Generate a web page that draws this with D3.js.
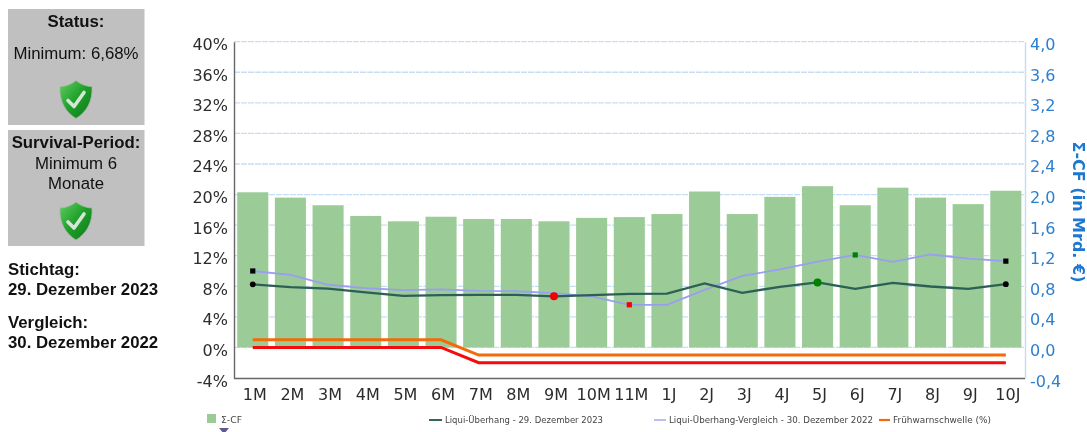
<!DOCTYPE html>
<html><head><meta charset="utf-8">
<script src="https://cdn.jsdelivr.net/npm/d3@7/dist/d3.min.js"></script>
<style>
html,body{margin:0;padding:0;background:#fff;overflow:hidden}
svg{display:block;filter:blur(.6px)}
.side{font-family:"Liberation Sans",Arial,sans-serif;fill:#111}
.ax{font-family:"DejaVu Sans",sans-serif;font-size:16px}
.leg{font-family:"DejaVu Sans",sans-serif;font-size:9px;fill:#444}
</style></head><body>
<svg id="c" width="1087" height="432"></svg>
<script>
const categories=["1M","2M","3M","4M","5M","6M","7M","8M","9M","10M","11M","1J","2J","3J","4J","5J","6J","7J","8J","9J","10J"];
const cfValues=[2.03,1.96,1.86,1.72,1.65,1.71,1.68,1.68,1.65,1.695,1.705,1.745,2.04,1.745,1.97,2.11,1.86,2.09,1.96,1.875,2.05];
const liquiValues=[8.25,7.9,7.7,7.2,6.75,6.85,6.88,6.88,6.68,6.85,7.0,7.05,8.37,7.15,7.93,8.5,7.67,8.45,7.97,7.67,8.28];
const vergleichValues=[10.0,9.5,8.2,7.75,7.5,7.6,7.4,7.35,7.1,6.67,5.58,5.58,7.54,9.37,10.2,11.24,12.1,11.2,12.16,11.63,11.29];
const fruehValues=[1,1,1,1,1,1,-1,-1,-1,-1,-1,-1,-1,-1,-1,-1,-1,-1,-1,-1,-1];
const limitValues=[0,0,0,0,0,0,-2,-2,-2,-2,-2,-2,-2,-2,-2,-2,-2,-2,-2,-2,-2];
const leftTicks=[-4,0,4,8,12,16,20,24,28,32,36,40];
const rightTicks=[-0.4,0,0.4,0.8,1.2,1.6,2.0,2.4,2.8,3.2,3.6,4.0];
const liquiMarks=[{i:0,c:"#000"},{i:8,c:"#f00000"},{i:15,c:"#008000"},{i:20,c:"#000"}];
const vergleichMarks=[{i:0,c:"#000"},{i:10,c:"#f00000"},{i:16,c:"#008000"},{i:20,c:"#000"}];
const legendItems=["Σ-CF","Liqui-Überhang - 29. Dezember 2023","Liqui-Überhang-Vergleich - 30. Dezember 2022","Frühwarnschwelle (%)"];

const svg=d3.select("#c");
const L=234,R=1025,T=41.7,B=378;
const x=d3.scaleBand().domain(categories).range([L-1,R+.6]).paddingInner(.175).paddingOuter(.1125);
const y=d3.scaleLinear().domain([-4,40]).range([B,T]);
const y2=d3.scaleLinear().domain([-.4,4]).range([B,T]);
const cx=i=>x(categories[i])+x.bandwidth()/2;

// side panels
const panels=[[8,9,116],[8,130,116]];
svg.selectAll("rect.p").data(panels).join("rect").attr("class","p")
 .attr("x",d=>d[0]).attr("y",d=>d[1]).attr("width",136.5).attr("height",d=>d[2]).attr("fill","#c0c0c0");
const st=(t,xp,yp,size,bold,anchor)=>svg.append("text").attr("class","side").attr("x",xp).attr("y",yp)
 .attr("font-size",size).attr("font-weight",bold?"bold":"normal").attr("text-anchor",anchor||"middle").text(t);
st("Status:",76,27,16.8,true);
st("Minimum: 6,68%",76,59,16.8,false);
st("Survival-Period:",76,148,16.8,true);
st("Minimum 6",76,169,16.8,false);
st("Monate",76,189,16.8,false);
st("Stichtag:",8,275,16.8,true,"start");
st("29. Dezember 2023",8,295,16.8,true,"start");
st("Vergleich:",8,328,16.8,true,"start");
st("30. Dezember 2022",8,348,16.8,true,"start");

// shield icons
const defs=svg.append("defs");
const g=defs.append("linearGradient").attr("id","sh").attr("x1",0).attr("y1",0).attr("x2",1).attr("y2",1);
g.append("stop").attr("offset","0").attr("stop-color","#5fd15f");
g.append("stop").attr("offset",".5").attr("stop-color","#1f9e2a");
g.append("stop").attr("offset","1").attr("stop-color","#0c7a18");
[99.5,221].forEach(cy=>{
 const s=svg.append("g").attr("transform",`translate(76,${cy})`);
 s.append("path").attr("d","M0,-19 C5,-15 11,-13 16,-13 C17,2 10,13 0,19 C-10,13 -17,2 -16,-13 C-11,-13 -5,-15 0,-19Z")
  .attr("fill","url(#sh)").attr("stroke","#a8b8a8").attr("stroke-width",.8);
 s.append("path").attr("d","M-8,1 L-2,7 L8,-7").attr("fill","none").attr("stroke","#d4e6d4")
  .attr("stroke-width",3.6).attr("stroke-linecap","round").attr("stroke-linejoin","round");
});

// grid
svg.append("g").selectAll("line").data(leftTicks.filter(d=>d>-4)).join("line")
 .attr("x1",L).attr("x2",R).attr("y1",d=>y(d)).attr("y2",d=>y(d))
 .attr("stroke","#c6def5").attr("stroke-width",1.3).attr("stroke-dasharray","6 1");

// bars
svg.append("g").selectAll("rect").data(cfValues).join("rect")
 .attr("x",(d,i)=>x(categories[i])).attr("width",x.bandwidth())
 .attr("y",d=>y2(d)).attr("height",d=>y2(0)-y2(d)).attr("fill","#9bcb97");

// axes
const lAxis=svg.append("g").attr("class","ax").attr("transform",`translate(${L},0)`)
 .call(d3.axisLeft(y).tickValues(leftTicks).tickFormat(d=>d+"%").tickSize(0).tickPadding(6));
lAxis.select(".domain").attr("stroke","#666").attr("stroke-width",1.4);
lAxis.selectAll("text").attr("fill","#2c2c2c").attr("dy","0.5em");
const rAxis=svg.append("g").attr("class","ax").attr("transform",`translate(${R},0)`)
 .call(d3.axisRight(y2).tickValues(rightTicks).tickFormat(d=>d3.format(".1f")(d).replace(".",",").replace("−","-")).tickSize(0).tickPadding(5));
rAxis.select(".domain").attr("stroke","#c2ddf7").attr("stroke-width",1.4);
rAxis.selectAll("text").attr("fill","#2a7fd0").attr("dy","0.5em");
const bAxis=svg.append("g").attr("class","ax").attr("transform",`translate(0,${B})`)
 .call(d3.axisBottom(x).tickSize(0).tickPadding(11));
bAxis.select(".domain").attr("stroke","#666").attr("stroke-width",1.4).attr("d",`M${L},0.5H${R}`);
bAxis.selectAll("text").attr("fill","#2c2c2c").attr("dx","2");

// right title
svg.append("text").attr("transform","translate(1073,212) rotate(90)").attr("text-anchor","middle")
 .attr("font-family","'DejaVu Sans',sans-serif").attr("font-weight","bold").attr("font-size",16)
 .attr("fill","#1f78d0").text("Σ-CF (in Mrd. €)");

// lines
const line=d3.line().x((d,i)=>cx(i)).y(d=>y(d));
const draw=(v,c,w)=>svg.append("path").datum(v).attr("d",line).attr("fill","none").attr("stroke",c).attr("stroke-width",w);
draw(limitValues,"#f40b0b",3);
draw(fruehValues,"#f56a08",3);
draw(vergleichValues,"#9a9ef2",1.8);
draw(liquiValues,"#2c5f55",2.3);

svg.append("g").selectAll("rect").data(vergleichMarks).join("rect")
 .attr("x",d=>cx(d.i)-2.6).attr("y",d=>y(vergleichValues[d.i])-2.6).attr("width",5.2).attr("height",5.2).attr("fill",d=>d.c);
svg.append("g").selectAll("circle").data(liquiMarks).join("circle")
 .attr("cx",d=>cx(d.i)).attr("cy",d=>y(liquiValues[d.i])).attr("r",d=>d.c==="#000"?2.9:4).attr("fill",d=>d.c);

// legend
svg.append("rect").attr("x",207).attr("y",414).attr("width",9).attr("height",9).attr("fill","#9bcb97");
const ly=420;
svg.append("text").attr("class","leg").attr("x",221).attr("y",423).attr("textLength",21).attr("lengthAdjust","spacingAndGlyphs").text(legendItems[0]);
svg.append("line").attr("x1",429).attr("x2",442).attr("y1",ly).attr("y2",ly).attr("stroke","#33665c").attr("stroke-width",2);
svg.append("text").attr("class","leg").attr("x",445).attr("y",423).attr("textLength",158).attr("lengthAdjust","spacingAndGlyphs").text(legendItems[1]);
svg.append("line").attr("x1",654).attr("x2",666).attr("y1",ly).attr("y2",ly).attr("stroke","#a5a8ee").attr("stroke-width",1.5);
svg.append("text").attr("class","leg").attr("x",669).attr("y",423).attr("textLength",204).attr("lengthAdjust","spacingAndGlyphs").text(legendItems[2]);
svg.append("line").attr("x1",879).attr("x2",890).attr("y1",ly).attr("y2",ly).attr("stroke","#f56a08").attr("stroke-width",2.2);
svg.append("text").attr("class","leg").attr("x",893).attr("y",423).attr("textLength",98).attr("lengthAdjust","spacingAndGlyphs").text(legendItems[3]);
svg.append("path").attr("d","M219,428 h10 l-5,6 Z").attr("fill","#5a5a90");
</script></body></html>
